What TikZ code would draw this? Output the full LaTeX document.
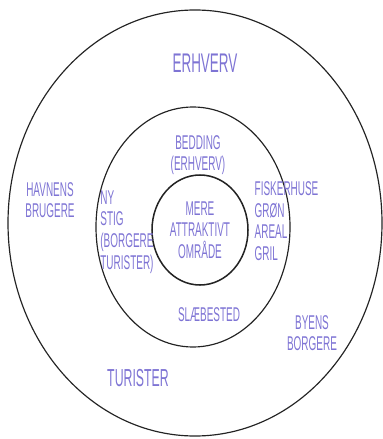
\documentclass[tikz,border=0pt]{standalone}
\usepackage{fontspec}
\newfontfamily\handfont[FakeStretch=0.5]{Liberation Sans}
\definecolor{ink}{RGB}{126,116,212}
\definecolor{pen}{RGB}{35,35,35}
\usepackage{tikz}
\usetikzlibrary{shapes.geometric,positioning}

\begin{document}
\begin{tikzpicture}
  \useasboundingbox (0,0) rectangle (11.46,-13.17);
  \tikzset{ring/.style={draw=pen,ellipse,inner sep=0pt,line width=1pt},
           hand/.style={text=ink,align=center,inner sep=1pt,
                        font=\handfont\fontsize{17}{18.5}\selectfont}}
  % the three zones
  \node[ring,minimum width=11.22cm,minimum height=12.78cm] (outer) at (5.85,-6.69) {};
  \node[ring,minimum width=5.82cm,minimum height=7.2cm] (middle) at (5.79,-6.81) {};
  \node[ring,line width=1.3pt,minimum width=2.88cm,minimum height=3.3cm] (inner) at (6.0,-6.9) {};
  % centre
  \node[hand] (mere) at (inner.center) {MERE\\ATTRAKTIVT\\OMRÅDE};
  % middle ring
  \node[hand] (bedding) at (5.94,-4.65) {BEDDING\\(ERHVERV)};
  \node[hand,align=left,anchor=west] (sti) at (2.97,-6.96) {NY\\STIG\\(BORGERE\\TURISTER)};
  \node[hand,align=left,anchor=west] (fisk) at (7.6,-6.63) {FISKERHUSE\\GRØN\\AREAL\\GRIL};
  \node[hand] (slaeb) at (6.27,-9.45) {SLÆBESTED};
  % outer ring
  \node[hand,font=\handfont\fontsize{23}{25}\selectfont] (erhverv) at (6.15,-1.89) {ERHVERV};
  \node[hand] (havn) at (1.5,-6.0) {HAVNENS\\BRUGERE};
  \node[hand] (byens) at (9.36,-9.99) {BYENS\\BORGERE};
  \node[hand,font=\handfont\fontsize{21}{23}\selectfont] (turist) at (4.14,-11.34) {TURISTER};
\end{tikzpicture}
\end{document}
